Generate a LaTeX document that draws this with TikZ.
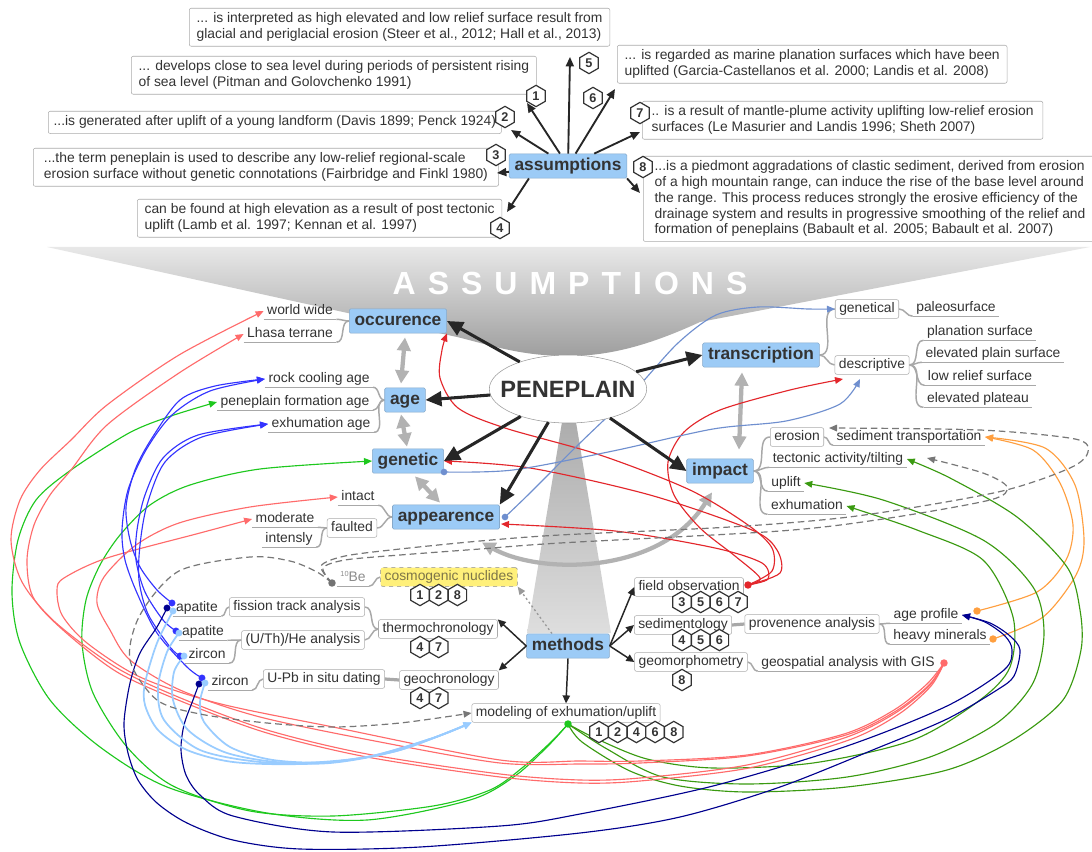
\documentclass[tikz,border=0pt]{standalone}
\usepackage{fontspec}
\setmainfont{Liberation Sans}
\usetikzlibrary{arrows.meta,shapes.geometric,calc}
\definecolor{txt}{HTML}{333333}
\definecolor{bdr}{HTML}{ABABAB}
\definecolor{cgray}{HTML}{A8A8A8}
\definecolor{bfill}{HTML}{9CCBF6}
\definecolor{bdraw}{HTML}{86A9CA}
\definecolor{cred}{HTML}{E3262B}
\definecolor{csalm}{HTML}{FF6B6B}
\definecolor{csteel}{HTML}{6F8FCF}
\definecolor{corange}{HTML}{FF9F3F}
\definecolor{cdgreen}{HTML}{3A9A10}
\definecolor{cgreen}{HTML}{1EC81E}
\definecolor{cblue}{HTML}{3333FF}
\definecolor{cnavy}{HTML}{00008F}
\definecolor{clight}{HTML}{99CCFF}
\definecolor{cdash}{HTML}{777777}
\definecolor{cyell}{HTML}{FFF07A}
\definecolor{ctxtyel}{HTML}{7D7548}
\pgfdeclarelayer{back}
\pgfdeclarelayer{mid}
\pgfsetlayers{back,mid,main}
\tikzset{
  every node/.style={text=txt},
  abox/.style={draw=bdr, fill=white, rounded corners=1.5pt, inner xsep=5.5pt, inner ysep=3.5pt, align=left, font=\fontsize{10.4}{11.8}\selectfont, anchor=north west},
  sbox/.style={draw=bdr, fill=white, rounded corners=1.5pt, inner xsep=3pt, inner ysep=2pt, text height=7.6pt, text depth=2.4pt, font=\fontsize{10.4}{12}\selectfont},
  lbl/.style={inner xsep=2.5pt, inner ysep=1pt, text height=7.6pt, text depth=2.4pt, font=\fontsize{10.4}{12}\selectfont},
  bnode/.style={fill=bfill, draw=bdraw, rounded corners=1pt, inner xsep=4pt, inner ysep=3pt, text height=9.4pt, text depth=2.8pt, font=\fontsize{13}{15}\selectfont\bfseries},
  hexb/.style={regular polygon, regular polygon sides=6, shape border rotate=30, draw=txt, line width=0.9pt, fill=white, inner sep=0pt, minimum size=16pt, font=\fontsize{9.5}{10}\selectfont\bfseries},
  uline/.style={draw=cgray, line width=0.9pt},
  conn/.style={draw=cgray, line width=1.1pt},
  tconn/.style={draw=cgray, line width=2.4pt},
  parr/.style={draw=black!85, line width=2.3pt, -{Triangle[length=12pt,width=11pt]}},
  aarr/.style={draw=black!85, line width=1.4pt, -{Triangle[length=7pt,width=6pt]}},
  marr/.style={draw=black!85, line width=1.1pt, -{Triangle[length=6pt,width=5.5pt]}},
  garr/.style={draw=black!30, line width=3.2pt, {Triangle[length=10pt,width=10pt]}-{Triangle[length=10pt,width=10pt]}},
  carr/.style={line width=0.85pt, -{Triangle[length=6pt,width=5pt]}},
  dashc/.style={draw=cdash, line width=0.9pt, dash pattern=on 5pt off 3pt, -{Triangle[length=6pt,width=5pt]}},
}
\begin{document}
\begin{tikzpicture}[x=0.75pt,y=-0.75pt]
\useasboundingbox (0,0) rectangle (1092,852);
\begin{pgfonlayer}{back}
\fill[white] (0,0) rectangle (1092,852);
\shade[top color=black!9, bottom color=black!38] (47,247) -- (1090,247) -- (700,322) .. controls (650,345) and (610,356) .. (568,356) .. controls (520,356) and (490,345) .. (457,337) -- cycle;
\shade[top color=black!36, bottom color=black!13] (569,380) -- (611,633) -- (527,633) -- cycle;
\node[font=\fontsize{24}{28}\selectfont\bfseries, text=white] (bigtxt) at (570,283) {A\hspace{9pt}S\hspace{9pt}S\hspace{9pt}U\hspace{9pt}M\hspace{9pt}P\hspace{9pt}T\hspace{9pt}I\hspace{9pt}O\hspace{9pt}N\hspace{9pt}S};
\end{pgfonlayer}

% ---------- top assumption boxes ----------
\node[abox] (A5) at (189,8) {... is interpreted as high elevated and low relief surface result from\\glacial and periglacial erosion (Steer et al., 2012; Hall et al., 2013)};
\node[abox] (A1) at (131,56) {... develops close to sea level during periods of persistent rising\\of sea level (Pitman and Golovchenko 1991)};
\node[abox, inner xsep=4pt] (A2) at (48,111) {...is generated after uplift of a young landform (Davis 1899; Penck 1924)};
\node[abox, inner xsep=8pt] (A3) at (33,148) {...the term peneplain is used to describe any low-relief regional-scale\\erosion surface without genetic connotations (Fairbridge and Finkl 1980)};
\node[abox] (A4) at (137,199) {can be found at high elevation as a result of post tectonic\\uplift (Lamb et al. 1997; Kennan et al. 1997)};
\node[abox] (A6) at (617,45) {... is regarded as marine planation surfaces which have been\\uplifted (Garcia-Castellanos et al. 2000; Landis et al. 2008)};
\node[abox, inner xsep=7pt] (A7) at (642,101) {.. is a result of mantle-plume activity uplifting low-relief erosion\\surfaces (Le Masurier and Landis 1996; Sheth 2007)};
\node[abox, inner xsep=8.5pt] (A8) at (643,156) {...is a piedmont aggradations of clastic sediment, derived from erosion\\of a high mountain range, can induce the rise of the base level around\\the range. This process reduces strongly the erosive efficiency of the\\drainage system and results in progressive smoothing of the relief and\\formation of peneplains (Babault et al. 2005; Babault et al. 2007)};

\node[bnode] (as) at (568,166) {assumptions};
\node[draw=black!40, fill=white, ellipse, minimum width=118pt, minimum height=51pt, inner sep=0pt, font=\fontsize{17.7}{20}\selectfont\bfseries] (pen) at (568,389) {\makebox[0pt]{PENEPLAIN}};

% ---------- main topics ----------
\node[bnode] (occ) at (398,321) {occurence};
\node[bnode] (age) at (405,400) {age};
\node[bnode] (gen) at (408,461) {genetic};
\node[bnode] (app) at (446,517) {appearence};
\node[bnode] (trans) at (761,355) {transcription};
\node[bnode] (imp) at (720,471) {impact};
\node[bnode] (meth) at (568,646) {methods};

% ---------- sub topics left ----------
\node[lbl] (ww) at (300,311) {world wide};
\node[lbl] (lh) at (290,334) {Lhasa terrane};
\node[lbl] (rca) at (319,379) {rock cooling age};
\node[lbl] (pfa) at (295,402) {peneplain formation age};
\node[lbl] (exa) at (321,424) {exhumation age};
\node[lbl] (int) at (358,497) {intact};
\node[sbox] (flt) at (352,528) {faulted};
\node[lbl] (mod) at (285,519) {moderate};
\node[lbl] (ins) at (289,539) {intensly};
% ---------- sub topics right ----------
\node[sbox] (gtl) at (867,309) {genetical};
\node[lbl] (pal) at (956,308) {paleosurface};
\node[sbox] (dsc) at (872,365) {descriptive};
\node[lbl] (pls) at (980,332) {planation surface};
\node[lbl] (eps) at (993,354) {elevated plain surface};
\node[lbl] (lrs) at (980,377) {low relief surface};
\node[lbl] (epl) at (978,399) {elevated plateau};
\node[sbox] (ero) at (797,437) {erosion};
\node[lbl] (sdt) at (909,437) {sediment transportation};
\node[lbl] (tec) at (838,459) {tectonic activity/tilting};
\node[lbl] (upl) at (786,483) {uplift};
\node[lbl] (exh) at (807,506) {exhumation};
% ---------- methods ----------
\node[sbox] (fob) at (689,587) {field observation};
\node[sbox] (sed) at (683,625) {sedimentology};
\node[sbox] (prv) at (812,624) {provenence analysis};
\node[lbl] (agp) at (926,615) {age profile};
\node[lbl] (hvm) at (940,636) {heavy minerals};
\node[sbox] (gmp) at (691,662) {geomorphometry};
\node[lbl] (gis) at (848,663) {geospatial analysis with GIS};
\node[sbox] (thc) at (438,629) {thermochronology};
\node[sbox] (ftr) at (297,607) {fission track analysis};
\node[sbox] (uth) at (303,640) {(U/Th)/He analysis};
\node[lbl] (ap1) at (197,608) {apatite};
\node[lbl] (ap2) at (203,632) {apatite};
\node[lbl] (zr1) at (207,655) {zircon};
\node[sbox] (gch) at (449,680) {geochronology};
\node[sbox] (upb) at (324,679) {U-Pb in situ dating};
\node[lbl] (zr2) at (230,682) {zircon};
\node[sbox, fill=cyell, draw=black!45, dashed, text=ctxtyel] (cos) at (449,577) {cosmogenic nuclides};
\node[lbl, text=black!45] (be) at (353,578) {{\fontsize{5.5}{6}\selectfont\raisebox{3.5pt}{10}}Be};
\node[sbox] (mdl) at (566,713) {modeling of exhumation/uplift};

% ---------- coordinates ----------
\coordinate (fod) at (748,585);
\coordinate (gisd) at (944,663);
\coordinate (apd) at (977,611);
\coordinate (hmd) at (993,639);
\coordinate (mdd) at (568,724);
\coordinate (gend) at (444,472);
\coordinate (appd) at (505,517);
\coordinate (bed) at (332,583);
\coordinate (a1n) at (167,608);
\coordinate (a1b) at (172,603);
\coordinate (a1l) at (173,611);
\coordinate (a2b) at (176,631);
\coordinate (a2l) at (179,633);
\coordinate (z1b) at (180,656);
\coordinate (z1l) at (184,656);
\coordinate (z2n) at (199,684);
\coordinate (z2b) at (202,678);
\coordinate (z2l) at (205,683);
\coordinate (r3e) at (501,524);
\coordinate (r4e) at (843,379);
\coordinate (b1e) at (860,379);
\coordinate (d2e) at (829,428);
\coordinate (d3e) at (927,458);
\coordinate (e5) at (570,57);
\coordinate (e1) at (527,103);
\coordinate (e2) at (511,130);
\coordinate (e3) at (497,173);
\coordinate (e4) at (507,212);
\coordinate (e6) at (615,89);
\coordinate (e7) at (640,132);
\coordinate (e8) at (640,193);

\begin{pgfonlayer}{mid}
% underlines
\foreach \n in {ww,lh,rca,pfa,exa,int,mod,ins,pal,pls,eps,lrs,epl,sdt,tec,upl,exh,agp,hvm,gis,ap1,ap2,zr1,zr2,be}
  \draw[uline] (\n.south west) -- (\n.south east);
% mind-map connectors
\draw[conn] (occ.west) to[out=180,in=0] (ww.south east);
\draw[conn] (occ.west) to[out=180,in=0] (lh.south east);
\draw[conn] (age.west) to[out=180,in=0] (rca.south east);
\draw[conn] (age.west) to[out=180,in=0] (pfa.south east);
\draw[conn] (age.west) to[out=180,in=0] (exa.south east);
\draw[conn] (app.west) to[out=180,in=0] (int.south east);
\draw[conn] (app.west) to[out=180,in=0] (flt.east);
\draw[conn] (flt.west) to[out=180,in=0] (mod.south east);
\draw[conn] (flt.west) to[out=180,in=0] (ins.south east);
\draw[conn] (trans.east) to[out=0,in=180] (gtl.west);
\draw[conn] (trans.east) to[out=0,in=180] (dsc.west);
\draw[conn] (gtl.east) to[out=0,in=180] (pal.south west);
\foreach \n in {pls,eps,lrs,epl} \draw[conn] (dsc.east) to[out=0,in=180] (\n.south west);
\draw[conn] (imp.east) to[out=0,in=180] (ero.west);
\foreach \n in {tec,upl,exh} \draw[conn] (imp.east) to[out=0,in=180] (\n.south west);
\draw[conn] (ero.east) to[out=0,in=180] (sdt.south west);
\draw[tconn] (sed.east) -- (prv.west);
\draw[conn] (prv.east) to[out=0,in=180] (agp.south west);
\draw[conn] (prv.east) to[out=0,in=180] (hvm.south west);
\draw[conn] (gmp.east) to[out=0,in=180] (gis.south west);
\draw[conn] (thc.west) to[out=180,in=0] (ftr.east);
\draw[conn] (thc.west) to[out=180,in=0] (uth.east);
\draw[conn] (ftr.west) to[out=180,in=0] (ap1.south east);
\draw[conn] (uth.west) to[out=180,in=0] (ap2.south east);
\draw[conn] (uth.west) to[out=180,in=0] (zr1.south east);
\draw[tconn] (gch.west) -- (upb.east);
\draw[conn] (upb.west) to[out=180,in=0] (zr2.south east);
\draw[conn] (be.south east) to[out=0,in=180] (cos.west);

% gray double arrows
\draw[garr] ($(occ.south)+(7,4)$) -- ($(age.north)+(-4,-4)$);
\draw[garr] ($(age.south)+(-4,2)$) -- ($(gen.north)+(-1,-2)$);
\draw[garr] ($(gen.south)+(7,3)$) -- ($(app.north)+(-6,-2)$);
\draw[garr] ($(trans.south)+(-19,5)$) -- ($(imp.north)+(19,-9)$);
\draw[garr] ($(app.south)+(36,13)$) .. controls (540,575) and (660,575) .. ($(imp.south)+(-8,9)$);

% red from field observation
\draw[cred, carr] plot[smooth] coordinates {(fod) (772,571) (772,548) (748,525) (690,490) (600,455) (505,428) (458,408) (440,378) (442,350) (occ.south east)};
\draw[cred, carr] plot[smooth] coordinates {(fod) (780,573) (777,550) (752,530) (650,495) (530,468) (gen.east)};
\draw[cred, carr] plot[smooth] coordinates {(fod) (768,579) (762,563) (715,548) (615,531) (r3e)};
\draw[cred, carr] plot[smooth] coordinates {(fod) (760,578) (735,556) (700,528) (674,495) (668,462) (684,432) (720,410) (790,390) (r4e)};
% steel blue
\draw[csteel, carr] plot[smooth] coordinates {(gend) (513,470) (613,451) (713,429) (786,421) (840,404) (b1e)};
\draw[csteel, carr] plot[smooth] coordinates {(appd) (530,493) (580,443) (635,390) (678,343) (716,315) (758,307) (808,309) (gtl.west)};
% orange
\draw[corange, carr] plot[smooth] coordinates {(apd) (1037,592) (1066,560) (1073,525) (1060,483) (1033,450) (sdt.east)};
\draw[corange, carr] plot[smooth] coordinates {(hmd) (1043,617) (1076,575) (1084,540) (1075,485) (1045,448) (sdt.east)};
% dark green
\draw[cdgreen, carr] plot[smooth] coordinates {(mdd) (582,742) (630,771) (680,786) (747,792) (847,787) (947,770) (1013,740) (1063,700) (1081,650) (1080,610) (1067,567) (1017,517) (950,478) (tec.east)};
\draw[cdgreen, carr] plot[smooth] coordinates {(mdd) (607,749) (663,777) (747,784) (847,777) (930,757) (997,723) (1033,683) (1044,633) (1033,587) (983,540) (883,500) (upl.east)};
\draw[cdgreen, carr] plot[smooth] coordinates {(mdd) (597,739) (647,759) (713,768) (813,763) (913,740) (980,700) (1010,667) (1013,617) (983,560) (917,530) (exh.east)};
% bright green
\draw[cgreen, carr] plot[smooth] coordinates {(mdd) (548,746) (515,776) (470,800) (367,820) (267,813) (167,787) (100,747) (50,700) (20,643) (12,593) (18,540) (36,500) (71,470) (129,433) (171,416) (pfa.west)};
\draw[cgreen, carr] plot[smooth] coordinates {(mdd) (551,742) (522,768) (490,790) (433,806) (333,816) (250,811) (173,786) (127,747) (93,693) (82,643) (86,600) (100,565) (120,535) (150,505) (190,485) (260,469) (gen.west)};
% salmon from GIS
\draw[csalm, carr] plot[smooth] coordinates {(gisd) (930,685) (897,712) (847,737) (747,765) (640,778) (580,780) (500,774) (367,754) (267,730) (183,699) (117,668) (55,622) (22,582) (11,540) (20,500) (40,470) (71,440) (107,405) (179,355) (ww.west)};
\draw[csalm, carr] plot[smooth] coordinates {(gisd) (931,686) (899,714) (849,740) (749,768) (640,781) (580,783) (500,777) (367,757) (267,733) (183,702) (117,672) (63,630) (33,597) (27,560) (34,525) (50,495) (71,470) (107,425) (179,373) (lh.west)};
\draw[csalm, carr] plot[smooth] coordinates {(gisd) (929,685) (896,711) (846,735) (747,756) (640,763) (580,764) (500,763) (380,742) (260,717) (180,690) (130,660) (110,630) (97,603) (104,577) (136,545) (179,523) (250,507) (int.west)};
\draw[csalm, carr] plot[smooth] coordinates {(gisd) (927,684) (894,710) (844,734) (747,755) (640,761) (580,761) (500,760) (333,727) (217,703) (140,677) (87,643) (62,615) (57,590) (64,578) (107,558) (200,533) (mod.west)};
% bright blue
\draw[cblue, carr] plot[smooth] coordinates {(a1b) (157,590) (140,567) (130,540) (126,507) (135,470) (152,438) (180,400) (215,386) (rca.west)};
\draw[cblue, carr] plot[smooth] coordinates {(z2b) (187,667) (157,633) (137,593) (125,560) (122,530) (128,490) (146,450) (172,415) (210,391) (rca.west)};
\draw[cblue, carr] plot[smooth] coordinates {(a2b) (163,620) (145,592) (136,560) (137,530) (145,495) (163,458) (198,435) (exa.west)};
\draw[cblue, carr] plot[smooth] coordinates {(z1b) (170,647) (148,614) (139,580) (140,545) (147,505) (165,462) (202,437) (exa.west)};
% navy
\draw[cnavy, carr] plot[smooth] coordinates {(a1n) (157,627) (140,653) (130,683) (124,723) (128,753) (138,780) (157,803) (187,823) (233,840) (300,849) (420,847) (580,833) (680,817) (780,787) (880,747) (947,719) (997,690) (1014,676) (1020,650) (1010,636) (990,623) (agp.east)};
\draw[cnavy, carr] plot[smooth] coordinates {(z2n) (193,700) (184,725) (181,750) (186,775) (200,795) (233,816) (333,832) (500,826) (580,814) (713,786) (847,746) (947,706) (1004,670) (1012,650) (1005,636) (985,622) (agp.east)};
% light blue
\draw[clight, carr, line width=1.3pt] plot[smooth] coordinates {(a1l) (157,643) (145,683) (145,705) (158,730) (187,750) (233,762) (300,764) (367,757) (433,738) (mdl.south west)};
\draw[clight, carr, line width=1.3pt] plot[smooth] coordinates {(a2l) (167,652) (158,687) (164,720) (200,750) (260,762) (330,763) (400,750) (mdl.south west)};
\draw[clight, carr, line width=1.3pt] plot[smooth] coordinates {(z1l) (174,672) (173,700) (188,730) (227,753) (290,763) (367,757) (433,738) (mdl.south west)};
\draw[clight, carr, line width=1.3pt] plot[smooth] coordinates {(z2l) (200,702) (204,722) (230,747) (273,760) (330,762) (400,750) (mdl.south west)};
% gray dashed
\draw[dashc] plot[smooth] coordinates {(bed) (317,572) (290,561) (250,557) (179,571) (140,615) (130,660) (157,700) (200,714) (267,723) (333,727) (400,723) (mdl.west)};
\draw[dashc] plot[smooth] coordinates {(bed) (321,566) (345,556) (400,549) (480,541) (560,535) (730,527) (857,516) (998,492) (1070,468) (1088,452) (1075,439) (980,430) (d2e)};
\draw[dashc] plot[smooth] coordinates {(bed) (323,568) (345,560) (400,555) (480,549) (560,543) (780,531) (883,519) (990,500) (1007,487) (983,473) (d3e)};
\draw[draw=black!40, line width=1pt, dash pattern=on 1.5pt off 2pt, -{Triangle[length=6pt,width=5pt]}] ($(meth.north)+(-16,0)$) -- (cos.south east);
\end{pgfonlayer}

% dots
\fill[cred] (fod) circle (2.8pt);
\fill[csalm] (gisd) circle (2.8pt);
\fill[corange] (apd) circle (2.8pt);
\fill[corange] (hmd) circle (2.8pt);
\fill[cgreen] (mdd) circle (2.8pt);
\fill[csteel] (gend) circle (2.5pt);
\fill[csteel] (appd) circle (2.5pt);
\fill[black!55] (bed) circle (2.8pt);
\fill[cnavy] (a1n) circle (2.6pt);
\fill[cblue] (a1b) circle (2.6pt);
\fill[clight] (a1l) circle (2.6pt);
\fill[cblue] (a2b) circle (2.6pt);
\fill[clight] (a2l) circle (2.6pt);
\fill[cblue] (z1b) circle (2.6pt);
\fill[clight] (z1l) circle (2.6pt);
\fill[cnavy] (z2n) circle (2.6pt);
\fill[cblue] (z2b) circle (2.6pt);
\fill[clight] (z2l) circle (2.6pt);

% black arrows from PENEPLAIN
\draw[parr] (pen) -- (occ.east);
\draw[parr] (pen) -- (age.east);
\draw[parr] (pen) -- (gen.east);
\draw[parr] (pen) -- (app.north east);
\draw[parr] (pen) -- (trans.west);
\draw[parr] (pen) -- (imp.west);
% assumptions arrows
\draw[aarr] (as) -- (e5);
\draw[aarr] (as) -- (e1);
\draw[aarr] (as) -- (e2);
\draw[aarr] (as) -- (e3);
\draw[aarr] ($(as.south west)+(20,0)$) -- (e4);
\draw[aarr] (as) -- (e6);
\draw[aarr] (as) -- (e7);
\draw[aarr] (as.south east) -- (e8);
% methods arrows
\draw[marr] (meth.east) -- (fob.west);
\draw[marr] (meth.east) -- (sed.west);
\draw[marr] (meth.east) -- (gmp.west);
\draw[marr] (meth.west) -- (thc.north east);
\draw[marr] (meth.west) -- (gch.north east);
\draw[marr] (meth.south) -- (mdl.north);

% hexagon badges
\node[hexb] (t1) at (536,96) {1};
\node[hexb] (t2) at (505,117) {2};
\node[hexb] (t3) at (496,155) {3};
\node[hexb] (t4) at (500,228) {4};
\node[hexb] (t5) at (589,63) {5};
\node[hexb] (t6) at (593,98) {6};
\node[hexb] (t7) at (640,113) {7};
\node[hexb] (t8) at (643,167) {8};
\node[hexb] (c1) at (420,595) {1};
\node[hexb] (c2) at (438.7,595) {2};
\node[hexb] (c8) at (457.4,595) {8};
\node[hexb] (th4) at (420,647) {4};
\node[hexb] (th7) at (438.7,647) {7};
\node[hexb] (gc4) at (420,698) {4};
\node[hexb] (gc7) at (438.7,698) {7};
\node[hexb] (f3) at (682,602) {3};
\node[hexb] (f5) at (700.7,602) {5};
\node[hexb] (f6) at (719.4,602) {6};
\node[hexb] (f7) at (738.1,602) {7};
\node[hexb] (s4) at (682,640) {4};
\node[hexb] (s5) at (700.7,640) {5};
\node[hexb] (s6) at (719.4,640) {6};
\node[hexb] (g8) at (682,680) {8};
\node[hexb] (m1) at (599,732) {1};
\node[hexb] (m2) at (617.7,732) {2};
\node[hexb] (m4) at (636.4,732) {4};
\node[hexb] (m6) at (655.1,732) {6};
\node[hexb] (m8) at (673.8,732) {8};
\end{tikzpicture}
\end{document}
